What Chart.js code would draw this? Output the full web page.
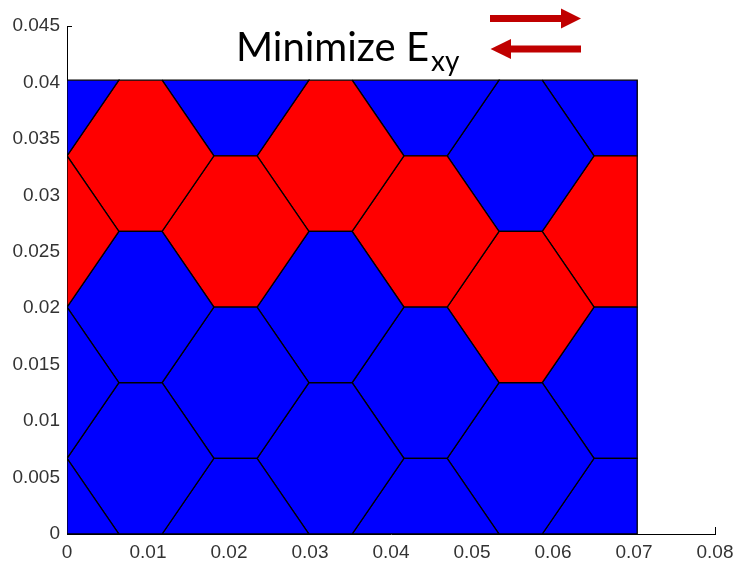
<!DOCTYPE html>
<html>
<head>
<meta charset="utf-8">
<title>Minimize Exy</title>
<script src="https://cdn.jsdelivr.net/npm/chart.js@4.4.0/dist/chart.umd.min.js"></script>
<style>
  html, body { margin: 0; padding: 0; background: #fff; }
</style>
</head>
<body>
<canvas id="hexChart" width="734" height="561"></canvas>
<script>
// hex cell centres, column by column (even columns sit on the rows 0, .0134, ...)
const columnX = [-0.00266, 0.00907, 0.0208, 0.03253, 0.04427, 0.056, 0.06773];
const evenRowsY = [0, 0.0134, 0.0268, 0.0402];
const oddRowsY = [0.0067, 0.0201, 0.0335];
// 1 = red, 0 = blue, bottom to top in each column
const cellState = [
  [0, 0, 1, 0],
  [0, 0, 1],
  [0, 0, 1, 0],
  [0, 0, 1],
  [0, 0, 1, 0],
  [0, 1, 0],
  [0, 0, 1, 0]
];
const domainX = [0, 0.0704];
const domainY = [0, 0.0402];
const xTicks = [0, 0.01, 0.02, 0.03, 0.04, 0.05, 0.06, 0.07, 0.08];
const yTicks = [0, 0.005, 0.01, 0.015, 0.02, 0.025, 0.03, 0.035, 0.04, 0.045];

// cell shape
const hexSlant = 0.0064;
const hexEdge = 0.00533;
const hexHalfH = 0.0067;

function hexPoints(cx, cy) {
  const a = hexEdge / 2, b = a + hexSlant;
  return [[cx - b, cy], [cx - a, cy - hexHalfH], [cx + a, cy - hexHalfH],
          [cx + b, cy], [cx + a, cy + hexHalfH], [cx - a, cy + hexHalfH]];
}

function clipBy(pts, inside, cut) {
  const out = [];
  for (let i = 0; i < pts.length; i++) {
    const cur = pts[i], prev = pts[(i + pts.length - 1) % pts.length];
    if (inside(cur)) {
      if (!inside(prev)) out.push(cut(prev, cur));
      out.push(cur);
    } else if (inside(prev)) {
      out.push(cut(prev, cur));
    }
  }
  return out;
}
const atX = (p, q, x) => [x, p[1] + (q[1] - p[1]) * (x - p[0]) / (q[0] - p[0])];
const atY = (p, q, y) => [p[0] + (q[0] - p[0]) * (y - p[1]) / (q[1] - p[1]), y];

function clipToDomain(pts) {
  pts = clipBy(pts, p => p[0] >= domainX[0], (p, q) => atX(p, q, domainX[0]));
  pts = clipBy(pts, p => p[0] <= domainX[1], (p, q) => atX(p, q, domainX[1]));
  pts = clipBy(pts, p => p[1] >= domainY[0], (p, q) => atY(p, q, domainY[0]));
  pts = clipBy(pts, p => p[1] <= domainY[1], (p, q) => atY(p, q, domainY[1]));
  return pts;
}

const datasets = [];
columnX.forEach((cx, i) => {
  const rows = i % 2 === 0 ? evenRowsY : oddRowsY;
  rows.forEach((cy, j) => {
    const poly = clipToDomain(hexPoints(cx, cy));
    if (poly.length < 3) return;
    poly.push(poly[0]);
    datasets.push({
      data: poly.map(p => ({ x: p[0], y: p[1] })),
      backgroundColor: cellState[i][j] ? '#ff0000' : '#0000ff',
      borderColor: '#000000',
      borderWidth: 1.3,
      fill: 'shape',
      pointRadius: 0,
      tension: 0
    });
  });
});

// matlab style ticks point inwards
const innerTicks = {
  id: 'innerTicks',
  beforeDatasetsDraw(chart) {
    const { ctx, scales: { x, y }, chartArea } = chart;
    ctx.save();
    ctx.strokeStyle = '#000';
    ctx.lineWidth = 1;
    ctx.beginPath();
    xTicks.forEach(v => {
      const px = Math.round(x.getPixelForValue(v)) + 0.5;
      ctx.moveTo(px, chartArea.bottom);
      ctx.lineTo(px, chartArea.bottom - 7);
    });
    yTicks.forEach(v => {
      const py = Math.round(y.getPixelForValue(v)) + 0.5;
      ctx.moveTo(chartArea.left, py);
      ctx.lineTo(chartArea.left + 5, py);
    });
    ctx.stroke();
    ctx.restore();
  }
};

// title with subscript and the two shear arrows
const header = {
  id: 'header',
  afterDraw(chart) {
    const ctx = chart.ctx;
    ctx.save();
    ctx.fillStyle = '#000';
    ctx.textBaseline = 'alphabetic';
    ctx.font = '40px Lato';
    const main = 'Minimize E';
    ctx.fillText(main, 236, 61);
    const w = ctx.measureText(main).width;
    ctx.font = '28px Lato';
    ctx.fillText('xy', 236 + w + 2, 71);

    ctx.fillStyle = '#c00000';
    ctx.fillRect(490, 15, 71, 7);
    ctx.beginPath();
    ctx.moveTo(561, 8.5); ctx.lineTo(581, 18.5); ctx.lineTo(561, 28.5);
    ctx.closePath(); ctx.fill();
    ctx.fillRect(511, 45.5, 70, 7);
    ctx.beginPath();
    ctx.moveTo(511, 39); ctx.lineTo(490.5, 49); ctx.lineTo(511, 59);
    ctx.closePath(); ctx.fill();
    ctx.restore();
  }
};

const tickFont = { family: 'Liberation Sans', size: 19 };

new Chart(document.getElementById('hexChart').getContext('2d'), {
  type: 'line',
  data: { datasets },
  options: {
    responsive: false,
    animation: false,
    layout: { padding: { top: 26, right: 19, left: 0, bottom: 0 } },
    plugins: {
      legend: { display: false },
      tooltip: { enabled: false }
    },
    scales: {
      x: {
        type: 'linear', min: 0, max: 0.08,
        afterBuildTicks: s => { s.ticks = xTicks.map(v => ({ value: v })); },
        afterFit: s => { s.height = 27; s.paddingLeft = 0; s.paddingRight = 0; },
        grid: { drawOnChartArea: false, drawTicks: false },
        border: { color: '#000', width: 1 },
        ticks: { color: '#333', font: tickFont, padding: 7, maxRotation: 0, autoSkip: false, callback: v => String(v) }
      },
      y: {
        type: 'linear', min: 0, max: 0.045,
        afterBuildTicks: s => { s.ticks = yTicks.map(v => ({ value: v })); },
        afterFit: s => { s.width = 67; s.paddingTop = 0; s.paddingBottom = 0; },
        grid: { drawOnChartArea: false, drawTicks: false },
        border: { color: '#000', width: 1 },
        ticks: { color: '#333', font: tickFont, padding: 7, autoSkip: false, callback: v => String(v) }
      }
    }
  },
  plugins: [innerTicks, header]
});
</script>
</body>
</html>
